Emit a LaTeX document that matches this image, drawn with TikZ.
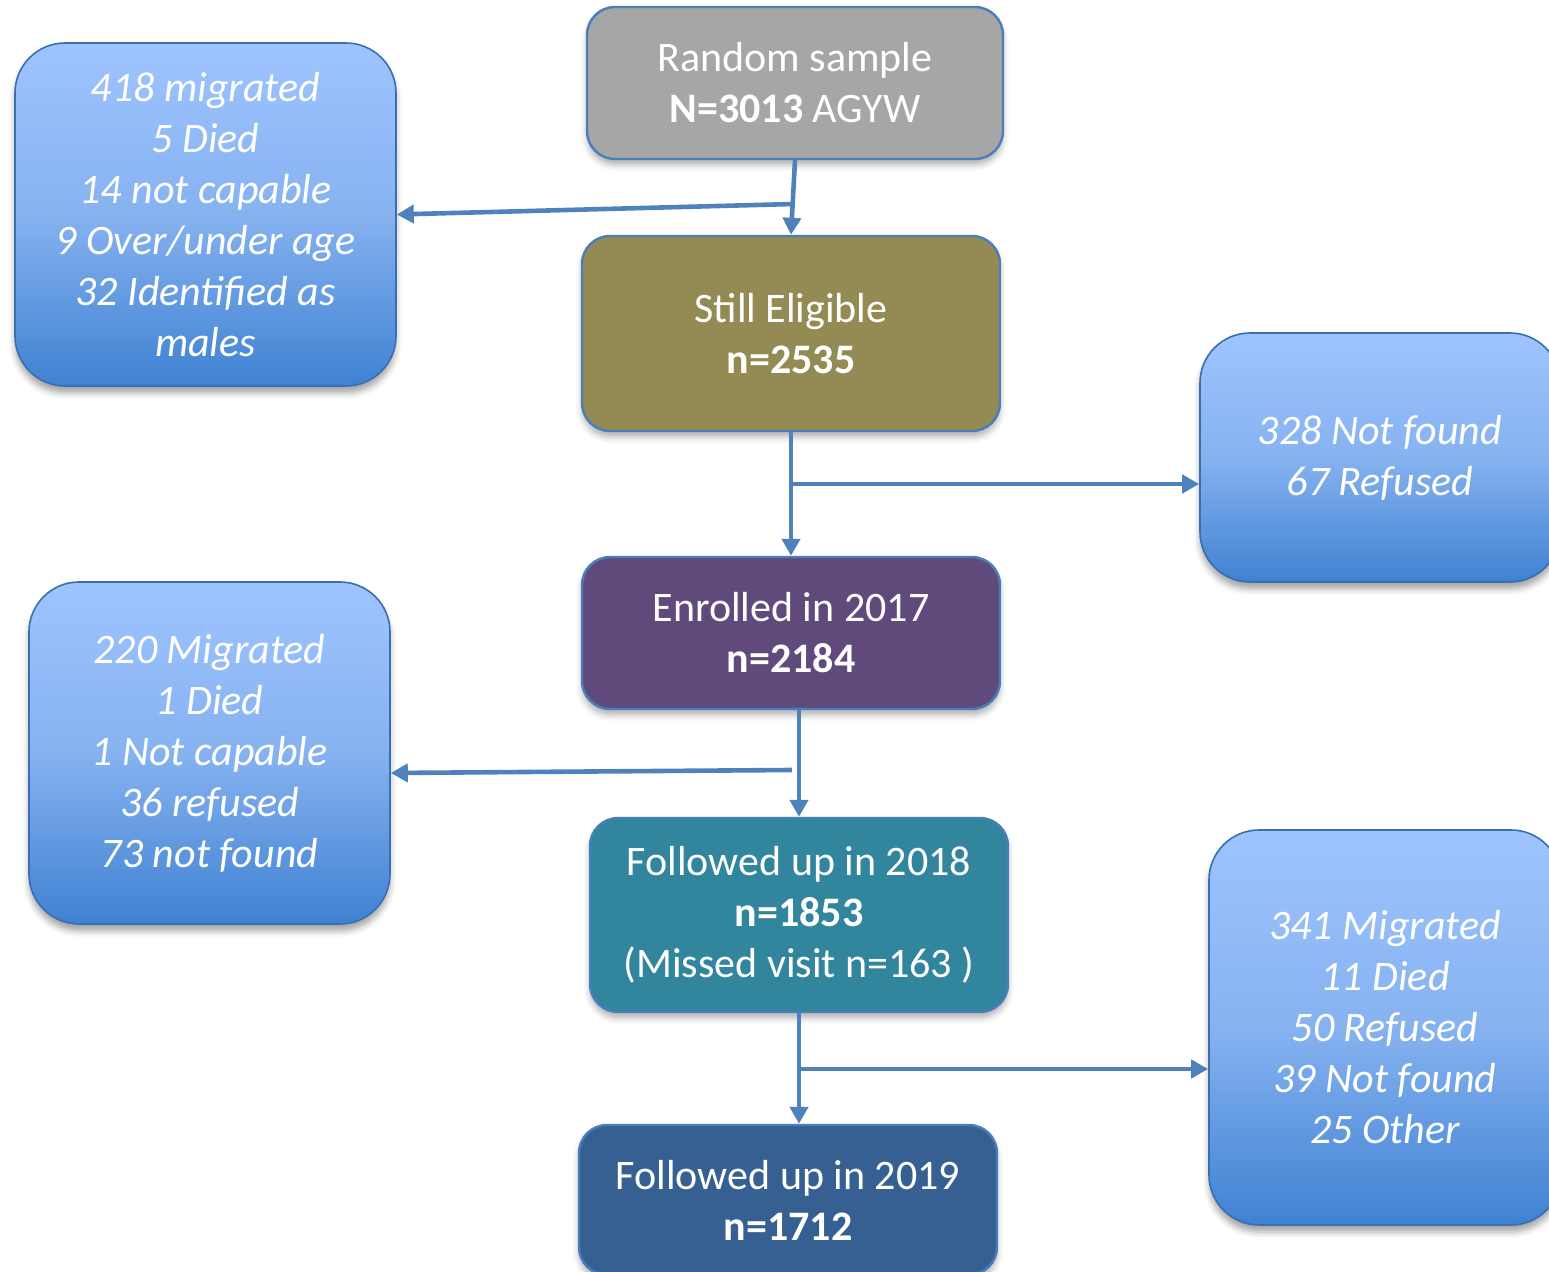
\documentclass[tikz,border=0pt]{standalone}
\usepackage{fontspec}
\setmainfont{Carlito}
\usetikzlibrary{arrows.meta,shadows.blur}
\definecolor{arrowc}{RGB}{79,129,189}
\definecolor{mainborder}{RGB}{74,126,187}
\definecolor{sideborder}{RGB}{58,110,176}
\definecolor{cgray}{RGB}{166,166,166}
\definecolor{colive}{RGB}{148,138,84}
\definecolor{cpurple}{RGB}{96,74,123}
\definecolor{cteal}{RGB}{49,133,156}
\definecolor{cblue}{RGB}{55,96,146}
\definecolor{gtop}{RGB}{158,196,255}
\definecolor{gmid}{RGB}{134,178,240}
\definecolor{gbot}{RGB}{63,130,210}
\tikzset{
  mainbox/.style={draw=mainborder, line width=1.2pt, rounded corners=14pt,
    text=white, align=center, inner sep=0pt,
    font=\fontsize{21pt}{25.5pt}\selectfont,
    blur shadow={shadow xshift=0pt, shadow yshift=-3pt, shadow blur radius=3pt, shadow opacity=30}},
  sidebox/.style={draw=sideborder, line width=0.8pt, rounded corners=25pt,
    top color=gtop, bottom color=gbot, middle color=gmid,
    text=white, align=center, inner sep=0pt,
    font=\fontsize{21pt}{25.5pt}\selectfont\itshape,
    blur shadow={shadow xshift=0pt, shadow yshift=-3.5pt, shadow blur radius=3pt, shadow opacity=35}},
  arr/.style={draw=arrowc, line width=2.3pt, -{Triangle[length=8.5pt,width=9pt]}},
}
\begin{document}
\begin{tikzpicture}[x=0.5pt,y=-0.5pt]
\useasboundingbox (0,0) rectangle (1549,1272);
% main boxes
\node[mainbox, fill=cgray, minimum width=208pt, minimum height=76pt] (rs) at (795,83)
  {Random sample\\\textbf{N=3013} AGYW};
\node[mainbox, fill=colive, minimum width=209pt, minimum height=97.5pt] (se) at (791,333.5)
  {Still Eligible\\\textbf{n=2535}};
\node[mainbox, fill=cpurple, minimum width=209pt, minimum height=76pt] (en) at (791,633)
  {Enrolled in 2017\\\textbf{n=2184}};
\node[mainbox, fill=cteal, minimum width=209pt, minimum height=97pt] (f18) at (799,915)
  {Followed up in 2018\\\textbf{n=1853}\\(Missed visit n=163 )};
\node[mainbox, fill=cblue, minimum width=209pt, minimum height=75pt] (f19) at (788,1200)
  {Followed up in 2019\\\textbf{n=1712}};
% side boxes
\node[sidebox, minimum width=190.5pt, minimum height=171.5pt] (L1) at (205.5,214.5)
  {418 migrated\\5 Died\\14 not capable\\9 Over/under age\\32 Identified as\\males};
\node[sidebox, minimum width=180pt, minimum height=124.5pt] (R1) at (1380,457.5)
  {328 Not found\\67 Refused};
\node[sidebox, minimum width=180.5pt, minimum height=171pt] (L2) at (209.5,753)
  {220 Migrated\\1 Died\\1 Not capable\\36 refused\\73 not found};
\node[sidebox, minimum width=176pt, minimum height=197.5pt] (R2) at (1385,1027.5)
  {341 Migrated\\11 Died\\50 Refused\\39 Not found\\25 Other};
% connectors
\coordinate (b1) at (794,204);
\draw[arr] (rs.south) -- (se.north);
\draw[arr] (b1) -- (L1.east);
\coordinate (b2) at (791,484);
\draw[arr] (se.south) -- (en.north);
\draw[arr] (b2) -- (b2 -| R1.west);
\coordinate (b3) at (792,770);
\draw[arr] (f18.north |- en.south) -- (f18.north);
\draw[arr] (b3) -- ([yshift=-10pt]L2.east);
\coordinate (b4) at (799,1069);
\draw[arr] (f18.south) -- (f18.south |- f19.north);
\draw[arr] (b4) -- (b4 -| R2.west);
\end{tikzpicture}
\end{document}
